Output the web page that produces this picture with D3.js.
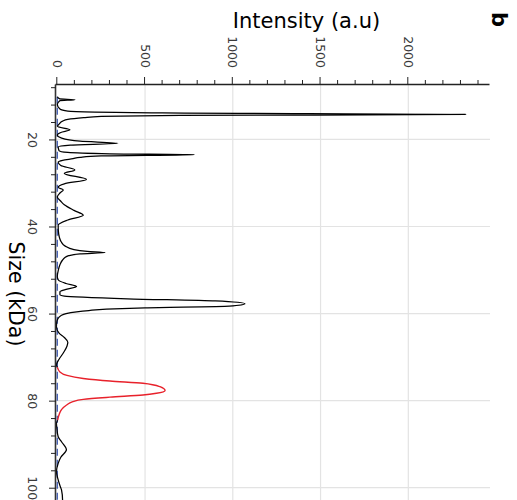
<!DOCTYPE html>
<html>
<head>
<meta charset="utf-8">
<script src="https://cdn.jsdelivr.net/npm/d3@7"></script>
<style>
  html, body { margin: 0; padding: 0; background: #fff; }
  svg { display: block; }
  text { font-family: "DejaVu Sans", sans-serif; }
</style>
</head>
<body>
<svg id="chart" width="517" height="500"></svg>
<script>
// ---- data (Size in kDa, Intensity in a.u.) ----
const traceSize = [10.2, 10.7, 10.88, 11.1, 12.0, 13.0, 13.5, 13.9, 14.25, 14.5, 14.7, 15.0, 15.4, 15.8, 16.5, 17.0,
  17.8, 18.4, 19.0, 19.7, 20.4, 20.9, 21.3, 21.7, 22.6, 23.0, 23.3, 23.52, 23.8, 24.1, 24.4, 24.8, 25.2, 26.0,
  27.0, 27.8, 29.2, 30.2, 31.0, 31.6, 32.3, 33.2, 34.2, 35.0, 36.3, 37.4, 38.5, 39.7, 41.0, 42.5, 43.5, 44.5,
  45.3, 45.7, 46.0, 46.3, 46.7, 47.2, 47.7, 48.8, 50.0, 51.5, 52.3, 53.1, 53.8, 54.5, 55.0, 55.7, 56.0, 56.6,
  57.1, 57.75, 58.3, 58.7, 59.0, 59.3, 59.6, 60.0, 60.5, 61.2, 61.9, 63.0, 64.5, 65.5, 66.6, 67.5, 69.0, 70.5,
  71.8, 72.3];
const traceIntensity = [0, 14, 101, 14, 0, 15, 60, 600, 2327, 700, 250, 150, 60, 30, 10, 0,
  72, 20, 0, 25, 130, 345, 75, 5, 10, 60, 300, 781, 250, 130, 90, 30, 5, 20,
  100, 40, 166, 40, 5, 34, 15, 0, 20, 40, 95, 148, 60, 5, 6, 12, 22, 45,
  95, 170, 272, 130, 65, 42, 30, 15, 6, 0, 6, 50, 110, 45, 15, 15, 40, 400,
  900, 1069, 980, 500, 280, 180, 110, 50, 20, 3, -3, -5, 10, 40, 60, 55, 35, 10,
  -5, 0];
const fitSize = [72.3, 73.4, 74.2, 74.9, 75.5, 76.0, 76.8, 77.7, 78.3, 78.7, 79.2, 79.7, 80.3, 81.0, 82.0, 83.0, 84.5];
const fitIntensity = [0, 15, 55, 148, 300, 488, 585, 614, 565, 488, 300, 148, 85, 53, 25, 12, 2];
const tailSize = [84.5, 85.2, 86.5, 88.3, 89.5, 91.3, 93.0, 94.4, 96.3, 98.2, 99.5, 100.5, 102.8, 104.2];
const tailIntensity = [2, -5, -2, 5, 25, 52, 20, 5, -5, 5, 15, 24, 30, 28];
const baselineSize = [10.2, 104.2];
const baselineIntensity = [0, 0];

const sizeTicks = [20, 40, 60, 80, 100];
const sizeMinorTicks = [8, 12, 16, 24, 28, 32, 36, 44, 48, 52, 56, 64, 68, 72, 76, 84, 88, 92, 96, 104];
const intensityTicks = [0, 500, 1000, 1500, 2000];
const intensityMinorTicks = d3.range(0, 2401, 100).filter(v => v % 500 !== 0);

const sizeTitle = "Size (kDa)";
const intensityTitle = "Intensity (a.u)";
const panelLabel = "b";

// ---- layout: the figure is drawn in its own frame then turned 90° clockwise ----
const svg = d3.select("#chart");
const g = svg.append("g").attr("transform", "translate(517,0) rotate(90)");

const x = d3.scaleLinear().domain([7.27, 104.2]).range([84, 506]);
const y = d3.scaleLinear().domain([-7.4, 2465.5]).range([461, 27]);

// grid
const grid = g.append("g");
grid.selectAll("line.h").data(intensityTicks.filter(d => d > 0)).join("line")
  .attr("x1", x.range()[0]).attr("x2", x.range()[1])
  .attr("y1", d => y(d)).attr("y2", d => y(d))
  .attr("stroke", "#e3e3e3").attr("stroke-width", 1.2);
grid.selectAll("line.v").data(sizeTicks).join("line")
  .attr("x1", d => x(d)).attr("x2", d => x(d))
  .attr("y1", y.range()[0]).attr("y2", y.range()[1])
  .attr("stroke", "#e3e3e3").attr("stroke-width", 1.2);

// baseline
const line = d3.line().x(d => x(d[0])).y(d => y(d[1])).curve(d3.curveMonotoneX);
g.append("path")
  .datum(d3.zip(baselineSize, baselineIntensity))
  .attr("d", d3.line().x(d => x(d[0])).y(d => y(d[1])))
  .attr("fill", "none").attr("stroke", "#4a64b8").attr("stroke-width", 1.4)
  .attr("stroke-dasharray", "7,4");

// traces
g.append("path").datum(d3.zip(traceSize, traceIntensity)).attr("d", line)
  .attr("fill", "none").attr("stroke", "#000").attr("stroke-width", 1.25);
g.append("path").datum(d3.zip(tailSize, tailIntensity)).attr("d", line)
  .attr("fill", "none").attr("stroke", "#000").attr("stroke-width", 1.25);
g.append("path").datum(d3.zip(fitSize, fitIntensity)).attr("d", line)
  .attr("fill", "none").attr("stroke", "#e8212b").attr("stroke-width", 1.4);

// axes
const fmt = d3.format("d");
function styleAxis(sel) {
  sel.selectAll("text").attr("fill", "#3a3a3a").style("font-size", "12.5px")
    .style("font-family", "'DejaVu Sans', sans-serif");
  sel.selectAll("line").attr("stroke", "#222");
}
const xAxis = g.append("g").attr("transform", `translate(0,${y.range()[0]})`)
  .call(d3.axisBottom(x).tickValues(sizeTicks).tickFormat(fmt).tickSize(7).tickPadding(12).tickSizeOuter(0));
xAxis.select(".domain").attr("stroke", "#333").attr("stroke-width", 1.6);
styleAxis(xAxis);
const xMinor = g.append("g").attr("transform", `translate(0,${y.range()[0]})`)
  .call(d3.axisBottom(x).tickValues(sizeMinorTicks).tickSize(5).tickFormat(""));
xMinor.select(".domain").remove();
xMinor.selectAll("line").attr("stroke", "#222");

const yAxis = g.append("g").attr("transform", `translate(${x.range()[0]},0)`)
  .call(d3.axisLeft(y).tickValues(intensityTicks).tickFormat(fmt).tickSize(7).tickPadding(9).tickSizeOuter(0));
yAxis.select(".domain").attr("stroke", "#222").attr("stroke-width", 1.3);
styleAxis(yAxis);
const yMinor = g.append("g").attr("transform", `translate(${x.range()[0]},0)`)
  .call(d3.axisLeft(y).tickValues(intensityMinorTicks).tickSize(4).tickFormat(""));
yMinor.select(".domain").remove();
yMinor.selectAll("line").attr("stroke", "#222");

// titles
g.append("text").text(sizeTitle)
  .attr("x", 294).attr("y", 508.5).attr("text-anchor", "middle")
  .style("font-size", "20.5px").attr("fill", "#000");
g.append("text").text(intensityTitle)
  .attr("transform", "translate(28,210.5) rotate(-90)").attr("text-anchor", "middle")
  .style("font-size", "21px").attr("fill", "#000");
g.append("text").text(panelLabel)
  .attr("x", 12).attr("y", 25).style("font-size", "21px").style("font-weight", "bold").attr("fill", "#000");
</script>
</body>
</html>
